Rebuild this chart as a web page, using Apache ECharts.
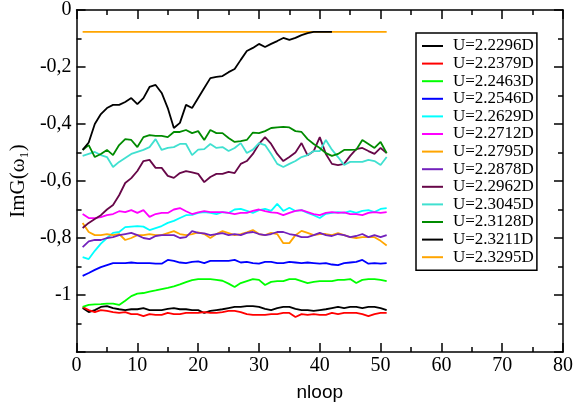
<!DOCTYPE html>
<html><head><meta charset="utf-8">
<script src="https://cdn.jsdelivr.net/npm/echarts@6/dist/echarts.min.js"></script>
<style>html,body{margin:0;padding:0;background:#fff}#c{width:576px;height:409px}</style>
</head><body><div id="c"></div>
<script>
const nloop = [1,2,3,4,5,6,7,8,9,10,11,12,13,14,15,16,17,18,19,20,21,22,23,24,25,26,27,28,29,30,31,32,33,34,35,36,37,38,39,40,41,42,43,44,45,46,47,48,49,50,51];
const seriesNames = ['U=2.2296D','U=2.2379D','U=2.2463D','U=2.2546D','U=2.2629D','U=2.2712D','U=2.2795D','U=2.2878D','U=2.2962D','U=2.3045D','U=2.3128D','U=2.3211D','U=2.3295D'];
const seriesColors = ['#000000','#ff0000','#00ff00','#0000ff','#00ffff','#ff00ff','#ffa500','#7221bc','#670748','#40e0d0','#008b00','#000000','#ffa500'];
const xTicks = [0,10,20,30,40,50,60,70,80];
const yTicks = [0,-0.2,-0.4,-0.6,-0.8,-1,-1.2];

const u2296 = [-1.046,-1.060,-1.053,-1.042,-1.039,-1.046,-1.050,-1.053,-1.050,-1.050,
 -1.046,-1.053,-1.053,-1.053,-1.049,-1.046,-1.050,-1.050,-1.053,-1.053,
 -1.063,-1.056,-1.053,-1.050,-1.046,-1.042,-1.042,-1.039,-1.039,-1.042,
 -1.049,-1.053,-1.046,-1.042,-1.042,-1.049,-1.053,-1.053,-1.056,-1.053,
 -1.050,-1.046,-1.042,-1.046,-1.042,-1.042,-1.046,-1.042,-1.042,-1.046,-1.053];
const u2379 = [-1.042,-1.053,-1.060,-1.053,-1.056,-1.060,-1.063,-1.060,-1.067,-1.067,
 -1.074,-1.067,-1.070,-1.070,-1.063,-1.067,-1.067,-1.063,-1.063,-1.063,
 -1.060,-1.063,-1.063,-1.060,-1.056,-1.056,-1.060,-1.067,-1.070,-1.070,
 -1.070,-1.067,-1.067,-1.063,-1.063,-1.077,-1.067,-1.070,-1.067,-1.070,
 -1.070,-1.063,-1.067,-1.063,-1.063,-1.063,-1.067,-1.074,-1.067,-1.063,-1.063];
const u2463 = [-1.042,-1.035,-1.033,-1.032,-1.030,-1.030,-1.035,-1.020,-1.004,-0.995,
 -0.993,-0.988,-0.984,-0.979,-0.975,-0.970,-0.963,-0.955,-0.948,-0.944,
 -0.944,-0.944,-0.947,-0.950,-0.960,-0.972,-0.958,-0.951,-0.944,-0.947,
 -0.965,-0.954,-0.951,-0.951,-0.944,-0.944,-0.951,-0.958,-0.954,-0.951,
 -0.951,-0.951,-0.947,-0.947,-0.944,-0.958,-0.947,-0.944,-0.944,-0.947,-0.951];
const u2546 = [-0.933,-0.923,-0.912,-0.902,-0.895,-0.888,-0.888,-0.888,-0.886,-0.888,
 -0.888,-0.888,-0.890,-0.890,-0.877,-0.880,-0.886,-0.888,-0.884,-0.882,
 -0.888,-0.880,-0.880,-0.880,-0.880,-0.877,-0.886,-0.884,-0.888,-0.890,
 -0.884,-0.884,-0.888,-0.888,-0.884,-0.886,-0.888,-0.886,-0.888,-0.890,
 -0.888,-0.893,-0.895,-0.888,-0.886,-0.884,-0.877,-0.890,-0.888,-0.890,-0.888];
const u2629 = [-0.867,-0.874,-0.845,-0.820,-0.800,-0.782,-0.779,-0.762,-0.760,-0.758,
 -0.760,-0.772,-0.765,-0.758,-0.747,-0.740,-0.730,-0.720,-0.719,-0.712,
 -0.709,-0.712,-0.716,-0.709,-0.712,-0.700,-0.698,-0.705,-0.712,-0.702,
 -0.698,-0.705,-0.680,-0.705,-0.694,-0.705,-0.702,-0.712,-0.720,-0.730,
 -0.715,-0.712,-0.709,-0.712,-0.706,-0.712,-0.705,-0.702,-0.709,-0.698,-0.695];
const u2712 = [-0.716,-0.730,-0.730,-0.727,-0.720,-0.716,-0.706,-0.709,-0.702,-0.712,
 -0.702,-0.726,-0.716,-0.712,-0.712,-0.700,-0.695,-0.706,-0.716,-0.710,
 -0.706,-0.709,-0.709,-0.709,-0.712,-0.716,-0.712,-0.712,-0.705,-0.700,
 -0.706,-0.710,-0.712,-0.720,-0.712,-0.705,-0.702,-0.709,-0.716,-0.720,
 -0.712,-0.709,-0.712,-0.710,-0.716,-0.716,-0.720,-0.712,-0.709,-0.712,-0.709];
const u2795 = [-0.747,-0.779,-0.790,-0.790,-0.786,-0.790,-0.786,-0.807,-0.800,-0.790,
 -0.790,-0.786,-0.790,-0.790,-0.783,-0.776,-0.786,-0.790,-0.786,-0.780,
 -0.786,-0.800,-0.786,-0.776,-0.783,-0.790,-0.786,-0.780,-0.772,-0.786,
 -0.790,-0.782,-0.786,-0.818,-0.818,-0.790,-0.775,-0.782,-0.790,-0.786,
 -0.786,-0.790,-0.783,-0.790,-0.797,-0.800,-0.797,-0.797,-0.797,-0.810,-0.826];
const u2878 = [-0.832,-0.812,-0.807,-0.807,-0.800,-0.797,-0.790,-0.786,-0.782,-0.790,
 -0.800,-0.804,-0.793,-0.790,-0.790,-0.790,-0.800,-0.797,-0.776,-0.782,
 -0.784,-0.790,-0.786,-0.783,-0.790,-0.786,-0.790,-0.782,-0.779,-0.786,
 -0.790,-0.786,-0.779,-0.779,-0.786,-0.790,-0.797,-0.797,-0.790,-0.782,
 -0.790,-0.793,-0.786,-0.790,-0.797,-0.793,-0.786,-0.797,-0.790,-0.797,-0.790];
const u2962 = [-0.765,-0.747,-0.733,-0.720,-0.700,-0.684,-0.650,-0.607,-0.590,-0.565,
 -0.530,-0.526,-0.554,-0.554,-0.582,-0.589,-0.572,-0.565,-0.570,-0.575,
 -0.604,-0.586,-0.575,-0.575,-0.568,-0.572,-0.540,-0.530,-0.505,-0.470,
 -0.446,-0.470,-0.505,-0.530,-0.516,-0.500,-0.467,-0.510,-0.495,-0.446,
 -0.505,-0.540,-0.544,-0.540,-0.512,-0.488,-0.484,-0.495,-0.505,-0.484,-0.502];
const u3045 = [-0.512,-0.505,-0.498,-0.509,-0.516,-0.551,-0.533,-0.519,-0.505,-0.498,
 -0.491,-0.481,-0.453,-0.491,-0.484,-0.481,-0.470,-0.470,-0.509,-0.490,
 -0.488,-0.470,-0.484,-0.481,-0.495,-0.484,-0.467,-0.502,-0.490,-0.467,
 -0.474,-0.505,-0.540,-0.551,-0.540,-0.530,-0.516,-0.509,-0.495,-0.495,
 -0.456,-0.490,-0.516,-0.544,-0.533,-0.533,-0.533,-0.526,-0.530,-0.544,-0.516];
const u3128 = [-0.491,-0.474,-0.516,-0.505,-0.491,-0.509,-0.474,-0.453,-0.456,-0.481,
 -0.446,-0.439,-0.442,-0.442,-0.446,-0.428,-0.428,-0.421,-0.432,-0.425,
 -0.456,-0.421,-0.432,-0.432,-0.449,-0.463,-0.460,-0.456,-0.430,-0.432,
 -0.425,-0.414,-0.412,-0.410,-0.412,-0.425,-0.428,-0.453,-0.470,-0.484,
 -0.502,-0.512,-0.505,-0.491,-0.491,-0.490,-0.456,-0.470,-0.484,-0.463,-0.502];
const u3211 = [-0.491,-0.465,-0.400,-0.365,-0.344,-0.333,-0.333,-0.323,-0.309,-0.330,
 -0.309,-0.270,-0.263,-0.291,-0.344,-0.414,-0.396,-0.333,-0.344,-0.309,
 -0.274,-0.239,-0.235,-0.232,-0.218,-0.207,-0.175,-0.144,-0.133,-0.119,
 -0.130,-0.119,-0.109,-0.098,-0.105,-0.098,-0.088,-0.081,-0.077,-0.077,
 -0.077,-0.077];
const u3295 = [-0.077,-0.077,-0.077,-0.077,-0.077,-0.077,-0.077,-0.077,-0.077,-0.077,
 -0.077,-0.077,-0.077,-0.077,-0.077,-0.077,-0.077,-0.077,-0.077,-0.077,
 -0.077,-0.077,-0.077,-0.077,-0.077,-0.077,-0.077,-0.077,-0.077,-0.077,
 -0.077,-0.077,-0.077,-0.077,-0.077,-0.077,-0.077,-0.077,-0.077,-0.077,
 -0.077,-0.077,-0.077,-0.077,-0.077,-0.077,-0.077,-0.077,-0.077,-0.077,-0.077];

const allValues = [u2296,u2379,u2463,u2546,u2629,u2712,u2795,u2878,u2962,u3045,u3128,u3211,u3295];

const serif = 'Liberation Serif';
const axisCommon = {
  type: 'value',
  axisLine: {show: true, onZero: false, lineStyle: {color: '#000', width: 1.5}},
  axisTick: {show: true, inside: true, length: 9, lineStyle: {color: '#000', width: 1.5}},
  minorTick: {show: true, splitNumber: 2, length: 5, lineStyle: {color: '#000', width: 1.5}},
  splitLine: {show: false}
};

const chart = echarts.init(document.getElementById('c'), null, {renderer: 'canvas'});
chart.setOption({
  animation: false,
  backgroundColor: '#fff',
  grid: {left: 73, right: 13, top: 10, bottom: 57},
  xAxis: [
    Object.assign({}, axisCommon, {
      position: 'bottom', min: xTicks[0], max: xTicks[xTicks.length-1], interval: 10,
      name: 'nloop', nameLocation: 'middle', nameGap: 31,
      nameTextStyle: {fontFamily: 'Liberation Sans', fontSize: 19, color: '#000'},
      axisLabel: {margin: 4, fontFamily: serif, fontSize: 20, color: '#000'}
    }),
    Object.assign({}, axisCommon, {
      position: 'top', min: xTicks[0], max: xTicks[xTicks.length-1], interval: 10,
      axisLabel: {show: false}
    })
  ],
  yAxis: [
    Object.assign({}, axisCommon, {
      position: 'left', min: yTicks[yTicks.length-1], max: yTicks[0], interval: 0.2,
      name: 'ImG(ω₁)', nameLocation: 'middle', nameGap: 41,
      nameTextStyle: {fontFamily: serif, fontSize: 21, color: '#000'},
      axisLabel: {margin: 5, fontFamily: serif, fontSize: 20, color: '#000', padding: [3, 0, 0, 0],
        formatter: function (v) {
          if (Math.abs(v) < 1e-9) return '0';
          if (v < -1.15) return '';
          return String(+v.toFixed(1)).replace('.', ',');
        }}
    }),
    Object.assign({}, axisCommon, {
      position: 'right', min: yTicks[yTicks.length-1], max: yTicks[0], interval: 0.2,
      axisLabel: {show: false}
    })
  ],
  legend: {
    show: true, orient: 'vertical', left: 416, top: 33,
    data: seriesNames,
    icon: 'rect', itemWidth: 21, itemHeight: 2, itemGap: 0.6,
    padding: [4.5, 3, 4.5, 6],
    borderColor: '#000', borderWidth: 1.5, backgroundColor: '#fff',
    textStyle: {fontFamily: serif, fontSize: 17, lineHeight: 17, color: '#000', padding: [0, 0, 0, 5]}
  },
  series: seriesNames.map(function (name, i) {
    return {
      name: name, type: 'line', xAxisIndex: 0, yAxisIndex: 0,
      data: allValues[i].map(function (v, j) { return [nloop[j], v]; }),
      symbol: 'none', showSymbol: false,
      z: i === 12 ? 1 : 2,
      lineStyle: {color: seriesColors[i], width: 1.8},
      itemStyle: {color: seriesColors[i]}
    };
  })
});
</script>
</body></html>
